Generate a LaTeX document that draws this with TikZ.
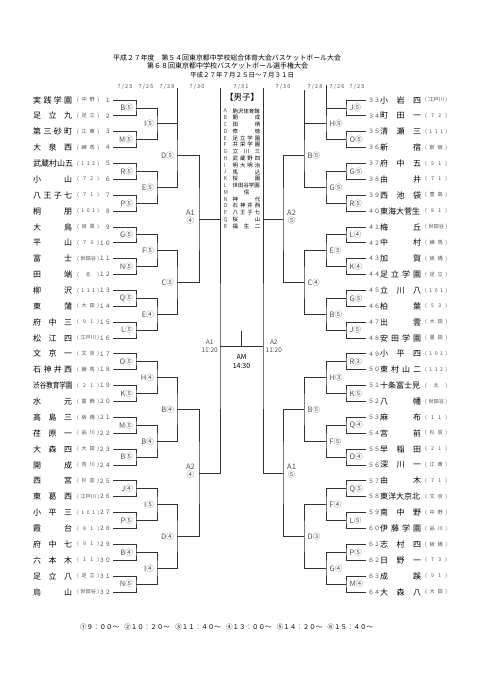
\documentclass[tikz,border=0pt]{standalone}
\usepackage{fontspec}
\setmainfont{Noto Sans CJK JP}
\usepackage{graphicx}
\usetikzlibrary{calc}
\definecolor{bkline}{HTML}{333333}
\definecolor{bklab}{HTML}{505050}
\newcommand\fs[1]{\fontsize{#1}{#1}\selectfont}
\newcommand\sq[1]{\scalebox{0.82}[1]{#1}}
\tikzset{
  br/.style  = {draw=bkline, line width=0.85pt},
  ttl/.style = {inner sep=0pt, anchor=west},
  tm/.style  = {inner sep=0pt, anchor=west, font=\fs{8}},
  ar/.style  = {inner sep=0pt, anchor=west, font=\fs{5.2}, text=bklab},
  no/.style  = {inner sep=0pt, font=\fs{6}\addfontfeatures{RawFeature=+fwid}, text=bklab},
  rd/.style  = {inner sep=0pt, font=\fs{7.5}, text=bklab},
  dt/.style  = {inner sep=0pt, font=\fs{5.5}\addfontfeatures{LetterSpace=20}, text=bklab},
  lg/.style  = {inner sep=0pt, anchor=west, font=\fs{5.4}},
}
\begin{document}
\begin{tikzpicture}[x=1pt,y=-1pt]
  \useasboundingbox (0,0) rectangle (481,680);
  % title
  \node[ttl, font=\fs{6.9}] (ttl1) at (113,57.5) {平成２７年度　第５４回東京都中学校総合体育大会バスケットボール大会};
  \node[ttl, font=\fs{7}] (ttl2) at (147,66) {第６８回東京都中学校バスケットボール選手権大会};
  \node[ttl, font=\fs{6.5}] (ttl3) at (190,75) {平成２７年７月２５日～７月３１日};
  % dates
  \foreach \x/\m/\d [count=\c] in {125/7/25,146/7/26,167/7/28,197/7/30,241/7/31,283/7/30,315/7/28,337/7/26,357/7/25}{
    \node[dt] (dt\c) at (\x,86.5) {\m/\d};
  }
  % teams, left half
  \foreach \i/\nm/\ar in {1/実 践 学 園/中 野, 2/足 立 九/足 立, 3/第 三 砂 町/江 東, 4/大 泉 西/練 馬,
      5/武蔵村山五/1 1 2, 6/小 山/7 2, 7/八 王 子 七/7 1, 8/桐 朋/1 0 1,
      9/大 鳥/目 黒, 10/平 山/7 3, 11/富 士/世田谷, 12/田 端/北,
      13/柳 沢/1 1 1, 14/東 蒲/大 田, 15/府 中 三/9 1, 16/松 江 四/江戸川,
      17/文 京 一/文 京, 18/石 神 井 西/練 馬, 19/\sq{渋谷教育学園}/2 1, 20/水 元/葛 飾,
      21/高 島 三/板 橋, 22/荏 原 一/品 川, 23/大 森 四/大 田, 24/開 成/荒 川,
      25/西 宮/杉 並, 26/東 葛 西/江戸川, 27/小 平 三/1 0 1, 28/霞 台/8 1,
      29/府 中 七/9 1, 30/六 本 木/1 1, 31/足 立 八/足 立, 32/烏 山/世田谷}{
    \pgfmathsetmacro\yy{100+(\i-1)*15.87}
    \node[tm] (tn\i) at (33,\yy) {\makebox[39pt][s]{\nm}};
    \node[ar] (ta\i) at (77,\yy) {\makebox[22pt][s]{( \ar{} )}};
    \node[no, anchor=east] (tk\i) at (111,\yy) {\i};
    \coordinate (l0-\i) at (113,\yy);
  }
  % teams, right half
  \foreach \i/\nm/\ar in {33/小 岩 四/江戸川, 34/町 田 一/7 2, 35/清 瀬 三/1 1 1, 36/新 宿/新 宿,
      37/府 中 五/9 1, 38/由 井/7 1, 39/西 池 袋/豊 島, 40/東海大菅生/8 1,
      41/梅 丘/世田谷, 42/中 村/練 馬, 43/加 賀/板 橋, 44/足 立 学 園/足 立,
      45/立 川 八/1 0 1, 46/柏 葉/5 3, 47/出 雲/大 田, 48/安 田 学 園/墨 田,
      49/小 平 四/1 0 1, 50/東 村 山 二/1 1 2, 51/十条富士見/北, 52/八 幡/世田谷,
      53/麻 布/1 1, 54/宮 前/杉 並, 55/早 稲 田/2 1, 56/深 川 一/江 東,
      57/由 木/7 1, 58/東洋大京北/文 京, 59/南 中 野/中 野, 60/伊 藤 学 園/品 川,
      61/志 村 四/板 橋, 62/日 野 一/7 3, 63/成 蹊/9 1, 64/大 森 八/大 田}{
    \pgfmathsetmacro\yy{100+(\i-33)*15.87}
    \pgfmathtruncatemacro\j{\i-32}
    \node[no, anchor=west] (tk\i) at (368,\yy) {\i};
    \node[tm] (tn\i) at (380,\yy) {\makebox[41pt][s]{\nm}};
    \node[ar] (ta\i) at (425,\yy) {\makebox[22pt][s]{( \ar{} )}};
    \coordinate (r0-\j) at (366,\yy);
  }
  % bracket points
  \foreach \lv/\xl/\xr/\cnt in {1/136/346/16,2/157/326/8,3/177/304/4,4/199/283/2,5/220/263/1}{
    \foreach \k in {1,...,\cnt}{
      \pgfmathsetmacro\yy{100+((\k-1)*2^\lv+(2^\lv-1)/2)*15.87}
      \coordinate (l\lv-\k) at (\xl,\yy);
      \coordinate (r\lv-\k) at (\xr,\yy);
    }
  }
  \foreach \lv/\cnt in {1/16,2/8,3/4,4/2,5/1}{
    \pgfmathtruncatemacro\pv{\lv-1}
    \foreach \k in {1,...,\cnt}{
      \pgfmathtruncatemacro\ca{2*\k-1}
      \pgfmathtruncatemacro\cb{2*\k}
      \draw[br] (l\pv-\ca) -| (l\lv-\k) |- (l\pv-\cb);
      \draw[br] (r\pv-\ca) -| (r\lv-\k) |- (r\pv-\cb);
    }
  }
  % column rules up to the dates
  \coordinate (xl3) at (177,88);
  \coordinate (xl5) at (220,88);
  \coordinate (xr5) at (263,88);
  \coordinate (xr3) at (304,90);
  \coordinate (xr2) at (326,85);
  \draw[br] (xl3) |- (l2-1);
  \draw[br] (xl5) |- (l4-1);
  \draw[br] (xr5) |- (r4-1);
  \draw[br] (xr3) |- (r2-1);
  \draw[br] (xr2) |- (r1-1);
  % final
  \coordinate (fin) at (241.5,346);
  \coordinate (fintop) at (241.5,331);
  \draw[br] (l5-1) -- (r5-1);
  \draw[br] (fin) -- (fintop);
  \node[inner sep=0pt, align=center, font=\fs{7}\linespread{1.15}\selectfont] (am) at (241.5,361.5) {AM\\14:30};
  % round labels
  \foreach \t [count=\k] in {B⑤,M⑤,R⑤,P⑤,G⑤,N⑤,Q⑤,L⑤,O⑤,K⑤,M⑤,B⑤,J④,P⑤,B④,N⑤}{
    \node[rd, anchor=east] (la1-\k) at ($(l1-\k)+(-3,0)$) {\t};
  }
  \foreach \t [count=\k] in {I⑤,E⑤,F⑤,E④,H④,B④,I⑤,I④}{
    \node[rd, anchor=east] (la2-\k) at ($(l2-\k)+(-3,0)$) {\t};
  }
  \foreach \t [count=\k] in {D⑤,C⑤,B④,D④}{
    \node[rd, anchor=east] (la3-\k) at ($(l3-\k)+(-3,0)$) {\t};
  }
  \foreach \t [count=\k] in {A1,A2}{
    \node[rd, anchor=east, align=center, font=\fs{7.5}\linespread{1.05}\selectfont] (la4-\k) at ($(l4-\k)+(-4,-2)$) {\t\\④};
  }
  \node[rd, anchor=east, align=center, font=\fs{6.5}\linespread{1.2}\selectfont] (la5-1) at ($(l5-1)+(-2,0)$) {A1\\11:20};
  \foreach \t [count=\k] in {J⑤,O⑤,G⑤,R⑤,L④,K④,G⑤,J⑤,R③,K⑤,Q④,O④,Q⑤,L⑤,P⑤,M④}{
    \node[rd, anchor=west] (ra1-\k) at ($(r1-\k)+(3.5,0)$) {\t};
  }
  \foreach \t [count=\k] in {H⑤,G⑤,E⑤,B⑤,H③,F⑤,F④,G④}{
    \node[rd, anchor=west] (ra2-\k) at ($(r2-\k)+(3.5,0)$) {\t};
  }
  \foreach \t [count=\k] in {B⑤,C④,B⑤,D③}{
    \node[rd, anchor=west] (ra3-\k) at ($(r3-\k)+(3.5,0)$) {\t};
  }
  \foreach \t [count=\k] in {A2,A1}{
    \node[rd, anchor=west, align=center, font=\fs{7.5}\linespread{1.05}\selectfont] (ra4-\k) at ($(r4-\k)+(4,-2)$) {\t\\⑤};
  }
  \node[rd, anchor=west, align=center, font=\fs{6.5}\linespread{1.2}\selectfont] (ra5-1) at ($(r5-1)+(2.5,0)$) {A2\\11:20};
  % venues
  \node[inner sep=0pt, font=\fs{8.5}] (mhd) at (242,97.5) {【男子】};
  \foreach \c/\v [count=\r] in {A/駒沢体育館, B/開 成, C/田 柄, D/修 徳, E/足 立 学 園, F/共 栄 学 園,
      G/立 川 三, H/武 蔵 野 四, I/明 大 明 治, J/馬 込, K/桜 園, L/世田谷学園,
      M/\hfill{}信\hfill{}, N/神 代, O/石 神 井 西, P/八 王 子 七, Q/桜 山, R/福 生 二}{
    \pgfmathsetmacro\yy{111+(\r-1)*6.78}
    \node[lg, text=bklab] (lgk\r) at (223.5,\yy) {\c};
    \node[lg] (lgv\r) at (232.5,\yy) {\makebox[27.5pt][s]{\v}};
  }
  % start times
  \node[ttl, font=\fs{6.5}] (tms) at (80,627) {\makebox[293pt][s]{①９：００～ ②１０：２０～ ③１１：４０～ ④１３：００～ ⑤１４：２０～ ⑥１５：４０～}};
\end{tikzpicture}
\end{document}
